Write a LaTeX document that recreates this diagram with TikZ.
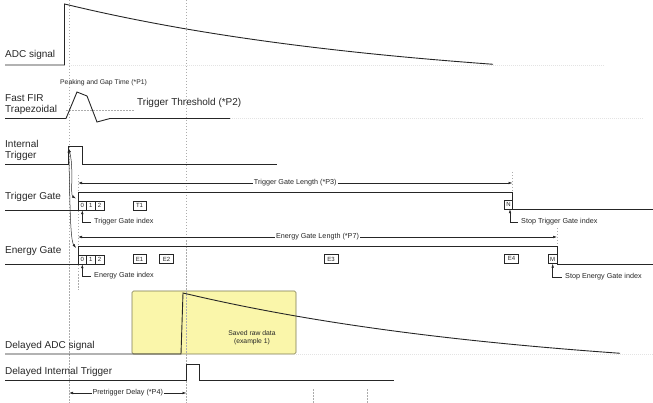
\documentclass[tikz,border=0pt]{standalone}
\usepackage{fontspec}
\setmainfont{Liberation Sans}
\usetikzlibrary{arrows.meta}
\definecolor{ink}{HTML}{262626}
\definecolor{savedfill}{HTML}{FAF6AA}
\definecolor{savedline}{HTML}{7D7A55}
\tikzset{
  sig/.style={draw=ink, line width=0.9pt, line join=miter},
  lbl/.style={font=\fontsize{10}{11}\selectfont, text=ink, inner sep=0pt, anchor=base west},
  small/.style={font=\fontsize{7.2}{8}\selectfont, text=ink, inner sep=0pt},
  guide/.style={draw=gray!65, dash pattern=on 1.5pt off 1.5pt, line width=0.45pt},
  faint/.style={draw=gray!22, dash pattern=on 1pt off 1pt, line width=0.6pt},
  idx/.style={draw=ink, line width=0.5pt, minimum height=9pt, inner sep=0pt, font=\fontsize{6}{6}\selectfont, text=ink},
  dim/.style={draw=ink, line width=0.5pt, {Latex[length=4pt,width=2.6pt]}-{Latex[length=4pt,width=2.6pt]}},
  ptr/.style={draw=ink, line width=0.5pt, -{Latex[length=4pt,width=2.6pt]}},
}
\begin{document}
\begin{tikzpicture}[x=1pt,y=-1pt]
\useasboundingbox (0,0) rectangle (653,403);

% saved raw data box
\node[draw=savedline, fill=savedfill, line width=0.6pt, rounded corners=1.5pt,
      minimum width=164pt, minimum height=63pt, inner sep=0pt] (saved) at (214,322.5) {};
\node[small, font=\fontsize{6.8}{8}\selectfont, align=center] (savedtxt) at (252,338) {Saved raw data\\(example 1)};

% faint horizontal guides
\draw[faint] (69,65) -- (605,65);
\draw[faint] (230,118.5) -- (643,118.5);
\draw[faint] (296,354) -- (653,354);

% vertical guides
\draw[guide] (69,0) -- (69,403);
\draw[guide] (186.5,0) -- (186.5,403);
\draw[guide] (78,175) -- (78,290);
\draw[guide] (512.5,172) -- (512.5,200);
\draw[guide] (557,228) -- (557,246);
\draw[guide] (313,389) -- (313,403);
\draw[guide] (367,389) -- (367,403);
\draw[guide] (66,110) -- (135,110);

% labels
\node[lbl] (adc) at (5,58) {ADC signal};
\node[lbl] (fir1) at (5,102) {Fast FIR};
\node[lbl] (fir2) at (5,113) {Trapezoidal};
\node[lbl] (it1) at (5,148) {Internal};
\node[lbl] (it2) at (5,159) {Trigger};
\node[lbl] (tg) at (5,200) {Trigger Gate};
\node[lbl] (eg) at (5,254) {Energy Gate};
\node[lbl] (dadc) at (5,348) {Delayed ADC signal};
\node[lbl] (dit) at (5,374) {Delayed Internal Trigger};
\node[lbl] (thr) at (137,106) {Trigger Threshold (*P2)};
\node[small, anchor=base west, font=\fontsize{6.8}{8}\selectfont] (pk) at (60,85) {Peaking and Gap Time (*P1)};

% ADC signal
\draw[sig] (5,65) -- (64.5,65) -- plot[domain=64.5:493, samples=60] (\x,{90-86*exp(-(\x-64.5)/355)});
% Fast FIR trapezoidal
\draw[sig] (5,118.5) -- (66,118.5) -- (77,92) -- (87,96) -- (97,122) -- (110,118.5) -- (230,118.5);
% internal trigger
\draw[sig] (5,164) -- (68,164) -- (68,146) -- (82,146) -- (82,164) -- (277,164);
% trigger gate
\draw[sig] (5,210) -- (78,210) -- (78,192) -- (512.5,192) -- (512.5,209.5) -- (653,209.5);
% energy gate
\draw[sig] (5,264) -- (78,264) -- (78,246) -- (557,246) -- (557,264) -- (653,264);
% delayed ADC
\draw[sig] (5,354) -- (181,354) -- plot[domain=183:620, samples=60] (\x,{379-86*exp(-(\x-183)/362)});
% delayed internal trigger
\draw[sig] (5,380) -- (186.5,380) -- (186.5,364) -- (199,364) -- (199,380) -- (394,380);

% index boxes trigger gate
\node[idx, minimum width=8.6pt] (t0) at (82.3,205.5) {0};
\node[idx, minimum width=8.6pt] (t1) at (90.9,205.5) {1};
\node[idx, minimum width=8.6pt] (t2) at (99.5,205.5) {2};
\node[idx, minimum width=13pt] (tT1) at (139.5,205.5) {T1};
\node[idx, minimum width=8pt] (tN) at (508.5,204.5) {N};
% index boxes energy gate
\node[idx, minimum width=8.6pt] (e0) at (82.3,259.5) {0};
\node[idx, minimum width=8.6pt] (e1) at (90.9,259.5) {1};
\node[idx, minimum width=8.6pt] (e2) at (99.5,259.5) {2};
\node[idx, minimum width=13pt] (eE1) at (139.5,259) {E1};
\node[idx, minimum width=14pt] (eE2) at (166.5,259) {E2};
\node[idx, minimum width=14pt] (eE3) at (331,259) {E3};
\node[idx, minimum width=14pt] (eE4) at (511.5,258.5) {E4};
\node[idx, minimum width=8.6pt] (eM) at (552.7,259) {M};

% index pointers
\node[small, anchor=west] (tgi) at (94,222) {Trigger Gate index};
\node[small, anchor=west] (egi) at (94,276) {Energy Gate index};
\node[small, anchor=west] (stgi) at (521,222) {Stop Trigger Gate index};
\node[small, anchor=west] (segi) at (565,277) {Stop Energy Gate index};
\draw[ptr] ([xshift=-3.5pt]tgi.west) -| (t0.south);
\draw[ptr] ([xshift=-3.5pt]egi.west) -| (e0.south);
\draw[ptr] ([xshift=-3.5pt]stgi.west) -| ([xshift=1.5pt]tN.south);
\draw[ptr] ([xshift=-3.5pt]segi.west) -| (eM.south);

% length dimensions
\coordinate (tgl) at (78,183);
\coordinate (tgr) at (512.5,183);
\coordinate (egl) at (78,237);
\coordinate (egr) at (557,237);
\coordinate (pdl) at (69,393);
\coordinate (pdr) at (186.5,393);
\draw[dim] (tgl) -- node[small, fill=white, inner xsep=1pt] (tglab) {Trigger Gate Length (*P3)} (tgr);
\draw[dim] (egl) -- node[small, fill=white, inner xsep=1pt] (eglab) {Energy Gate Length (*P7)} (egr);
\draw[dim] (pdl) -- node[small, fill=white, inner xsep=1pt] (pdlab) {Pretrigger Delay (*P4)} (pdr);

% trigger causality arrows
\coordinate (itr) at (68.7,148.5);
\coordinate (tgrise) at (76,198.5);
\coordinate (egrise) at (76,248);
\draw[dim] (itr) .. controls (74,168) and (70,195) .. (tgrise);
\draw[dim] (itr) .. controls (70,200) and (70,240) .. (egrise);
\end{tikzpicture}
\end{document}
